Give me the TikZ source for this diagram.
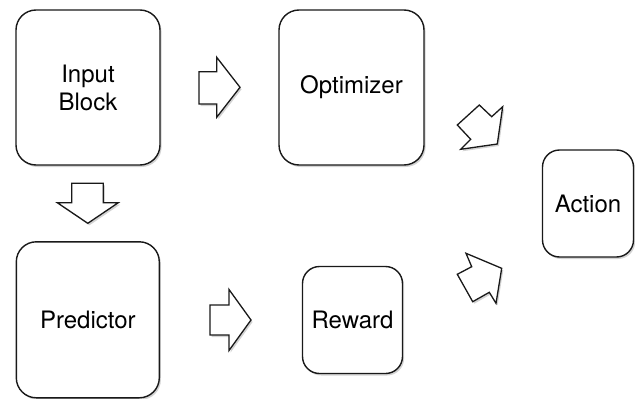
\documentclass[tikz,border=0pt]{standalone}
\usepackage{fontspec}
\setmainfont{TeX Gyre Heros}
\usetikzlibrary{shadows}
\begin{document}
\begin{tikzpicture}[x=1pt,y=-1pt,
  boxsty/.style={draw=black!90, line width=1.4pt, fill=white, rounded corners=20pt,
    align=center, font=\fontsize{24}{28}\selectfont, inner sep=0pt,
    drop shadow={shadow xshift=1.6pt, shadow yshift=-2pt, opacity=0.35}},
  smallbox/.style={boxsty, rounded corners=17pt},
  blockarrow/.style={draw=black!90, line width=1.3pt, fill=white, line join=miter,
    drop shadow={shadow xshift=1.6pt, shadow yshift=-2pt, opacity=0.35}}]
\useasboundingbox (0,0) rectangle (635,399);

\node[boxsty, minimum width=144pt, minimum height=155pt] (input) at (88,87.5) {Input\\Block};
\node[boxsty, minimum width=145pt, minimum height=155pt] (opt) at (351.5,87.5) {Optimizer};
\node[boxsty, minimum width=143pt, minimum height=156pt] (pred) at (87.8,319.8) {Predictor};
\node[smallbox, minimum width=100pt, minimum height=107pt] (rew) at (352.5,320) {Reward};
\node[smallbox, minimum width=91pt, minimum height=107pt] (act) at (588,203.5) {Action};

% Input -> Optimizer
\draw[blockarrow] (199,71.7) -- (216.7,71.7) -- (216.7,57.3) -- (240,87.3) -- (216.7,117.3)
  -- (216.7,104) -- (199,104) -- cycle;
% Predictor -> Reward
\draw[blockarrow] (210,305) -- (229,305) -- (229,289.5) -- (251,320) -- (229,350.5)
  -- (229,335) -- (210,335) -- cycle;
% Input -> Predictor
\draw[blockarrow] (71.7,183.3) -- (103.3,183.3) -- (103.3,202.7) -- (118.3,202.7) -- (87.8,223.3)
  -- (57.3,202.7) -- (71.7,202.7) -- cycle;
% Optimizer -> Action
\draw[blockarrow] (479.3,105) -- (491.7,116.7) -- (502.7,106.7) -- (497.3,144) -- (460.7,149.3)
  -- (470.7,139.3) -- (457.3,125) -- cycle;
% Reward -> Action
\draw[blockarrow] (466,253.3) -- (501.7,268.3) -- (496,303.3) -- (489.3,292.3) -- (472.7,301.7)
  -- (457.3,274.3) -- (471.7,266.7) -- cycle;
\end{tikzpicture}
\end{document}
